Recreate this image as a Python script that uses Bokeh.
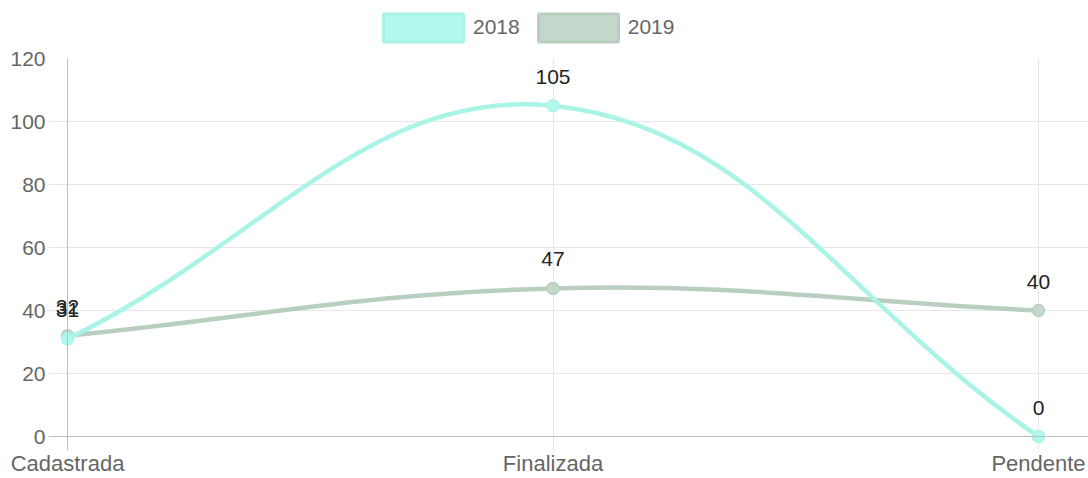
import math
from bokeh.plotting import figure
from bokeh.layouts import column
from bokeh.models import (ColumnDataSource, Legend, LegendItem, FixedTicker,
                          Range1d, Span)
from bokeh.core.properties import value
from bokeh.embed import file_html
from bokeh.resources import INLINE

# ---- data ----
categories = ["Cadastrada", "Finalizada", "Pendente"]
series_names = ["2018", "2019"]
values_2018 = [31, 105, 0]
values_2019 = [32, 47, 40]
y_ticks = [0, 20, 40, 60, 80, 100, 120]

# ---- style ----
FONT = "Liberation Sans"
COL_2018_LINE = "#a9f4e7"
COL_2018_FILL = "#b4f7ec"
COL_2019_LINE = "#b8cfbf"
COL_2019_FILL = "#c3d8ca"
TENSION = 0.4

W = 1088
TOP_H = 46
MAIN_H = 478 - TOP_H
FRAME_LEFT = 48          # px from canvas left (gridlines start here, like tick marks)
AXIS_X = 67              # px where category 0 sits
KX = 485.5               # px per category step
KY = 3.15                # px per y unit
FRAME_TOP_PAD = 12
FRAME_BOTTOM_PAD = 14    # px of frame below y = 0 (tick-mark length)
BOTTOM_BORDER = 28

x_pos = list(range(len(categories)))


def control_points(xs, ys):
    n = len(xs)
    prev_cp, next_cp = [], []
    for i in range(n):
        cx, cy = xs[i], ys[i]
        px, py = (xs[i - 1], ys[i - 1]) if i > 0 else (cx, cy)
        nx, ny = (xs[i + 1], ys[i + 1]) if i < n - 1 else (cx, cy)
        d01 = math.hypot((cx - px) * KX, (cy - py) * KY)
        d12 = math.hypot((nx - cx) * KX, (ny - cy) * KY)
        tot = d01 + d12
        s01 = d01 / tot if tot else 0
        s12 = d12 / tot if tot else 0
        fa, fb = TENSION * s01, TENSION * s12
        prev_cp.append((cx - fa * (nx - px), cy - fa * (ny - py)))
        next_cp.append((cx + fb * (nx - px), cy + fb * (ny - py)))
    return prev_cp, next_cp


def bezier_source(xs, ys):
    prev_cp, next_cp = control_points(xs, ys)
    d = dict(x0=[], y0=[], x1=[], y1=[], cx0=[], cy0=[], cx1=[], cy1=[])
    for i in range(len(xs) - 1):
        d["x0"].append(xs[i]); d["y0"].append(ys[i])
        d["x1"].append(xs[i + 1]); d["y1"].append(ys[i + 1])
        d["cx0"].append(next_cp[i][0]); d["cy0"].append(next_cp[i][1])
        d["cx1"].append(prev_cp[i + 1][0]); d["cy1"].append(prev_cp[i + 1][1])
    return ColumnDataSource(d)


x_start = -(AXIS_X - FRAME_LEFT) / KX
x_end = (W - AXIS_X) / KX
y_start = -FRAME_BOTTOM_PAD / KY

p = figure(width=W, height=MAIN_H, output_backend="svg", toolbar_location=None,
           x_range=Range1d(x_start, x_end), y_range=Range1d(y_start, 120),
           min_border_left=FRAME_LEFT, min_border_right=0,
           min_border_top=FRAME_TOP_PAD, min_border_bottom=BOTTOM_BORDER)
p.outline_line_color = None
p.background_fill_color = "white"
p.border_fill_color = "white"

# axes (labels only; the zero lines are drawn as spans at the data origin)
p.xaxis.ticker = FixedTicker(ticks=x_pos)
p.xaxis.major_label_overrides = {i: c for i, c in zip(x_pos, categories)}
p.yaxis.ticker = FixedTicker(ticks=y_ticks)
for ax in (p.xaxis[0], p.yaxis[0]):
    ax.axis_line_color = None
    ax.major_tick_line_color = None
    ax.minor_tick_line_color = None
    ax.major_tick_in = 0
    ax.major_tick_out = 0
    ax.major_label_text_font = FONT
    ax.major_label_text_font_size = "21px"
    ax.major_label_text_color = "#666666"
p.xaxis.major_label_text_font_size = "22px"
p.yaxis.major_label_standoff = 3
p.xaxis.major_label_standoff = 0

p.xgrid.ticker = FixedTicker(ticks=x_pos)
p.ygrid.ticker = FixedTicker(ticks=y_ticks)
p.xgrid.grid_line_color = "#e6e6e6"
p.ygrid.grid_line_color = "#e6e6e6"

p.add_layout(Span(location=0, dimension="width", line_color="#bdbdbd", line_width=1))
p.add_layout(Span(location=0, dimension="height", line_color="#bdbdbd", line_width=1))

series = [
    ("2019", values_2019, COL_2019_LINE, COL_2019_FILL),
    ("2018", values_2018, COL_2018_LINE, COL_2018_FILL),
]
for name, vals, lc, fc in series:
    src = bezier_source(x_pos, vals)
    p.bezier(x0="x0", y0="y0", x1="x1", y1="y1", cx0="cx0", cy0="cy0",
             cx1="cx1", cy1="cy1", source=src, line_color=lc, line_width=4.5)
    p.scatter(x=x_pos, y=vals, size=12, fill_color=fc, line_color=lc,
              line_width=1.5)

for name, vals, lc, fc in series:
    lsrc = ColumnDataSource(dict(x=x_pos, y=vals, t=[str(v) for v in vals]))
    p.text(x="x", y="y", text="t", source=lsrc, text_font=value(FONT),
           text_font_size="21px", text_color="#222222", text_align="center",
           text_baseline="middle", y_offset=-29)

# ---- legend strip above the chart ----
top = figure(width=W, height=TOP_H, output_backend="svg", toolbar_location=None,
             x_range=Range1d(0, W), y_range=Range1d(0, TOP_H),
             x_axis_type=None, y_axis_type=None,
             min_border_left=FRAME_LEFT, min_border_right=0, min_border_top=0,
             min_border_bottom=0)
top.outline_line_color = None
top.grid.visible = False
top.background_fill_color = "white"
top.border_fill_color = "white"

legend_rs = {}
for name, vals, lc, fc in series:
    legend_rs[name] = top.quad(left=[-20], right=[-10], top=[-10], bottom=[-20],
                               fill_color=fc, line_color=lc, line_width=3)

legend = Legend(items=[LegendItem(label=n, renderers=[legend_rs[n]]) for n in series_names],
                orientation="horizontal", location=(373 - FRAME_LEFT, 1.5),
                glyph_width=100, glyph_height=35, label_standoff=0, spacing=8,
                padding=0, margin=0, border_line_color=None,
                background_fill_alpha=0, label_text_font=FONT,
                label_text_font_size="21px", label_text_color="#666666")
top.add_layout(legend, "center")

layout = column(top, p, spacing=0)
open("out.html", "w").write(file_html(layout, INLINE))
